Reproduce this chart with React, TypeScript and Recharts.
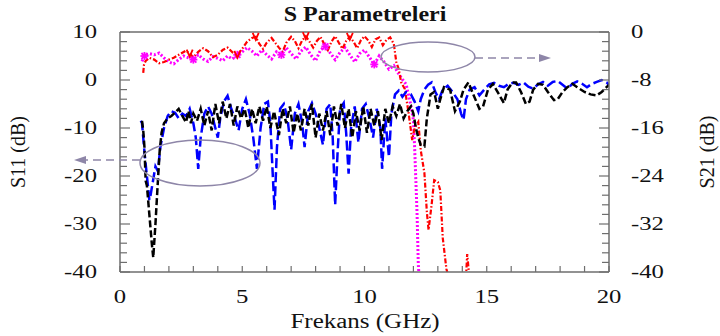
import { Line, LineChart, ReferenceLine, XAxis, YAxis } from "recharts";

// S11, black dashed (measured)
const s11BlackGhz = [
  0.9, 0.95, 1.0, 1.05, 1.1, 1.2, 1.3, 1.36, 1.45, 1.55, 1.62, 1.7, 1.8, 1.95, 2.1, 2.25, 2.4, 2.55, 2.7, 2.8,
  2.9, 3.0, 3.15, 3.3, 3.45, 3.6, 3.75, 3.9, 4.05, 4.2, 4.35, 4.5, 4.65, 4.8, 4.95, 5.1, 5.25, 5.4, 5.55, 5.7,
  5.85, 6.0, 6.15, 6.3, 6.5, 6.65, 6.8, 6.95, 7.1, 7.25, 7.4, 7.55, 7.7, 7.85, 8.0, 8.15, 8.3, 8.45, 8.6, 8.75,
  8.9, 9.05, 9.2, 9.35, 9.5, 9.65, 9.8, 9.95, 10.1, 10.25, 10.4, 10.55, 10.7, 10.85, 11.0, 11.15, 11.3, 11.45, 11.6, 11.75,
  11.9, 12.0, 12.1, 12.2, 12.3, 12.45, 12.55, 12.7, 12.85, 13.0, 13.1, 13.25, 13.5, 13.7, 13.9, 14.05, 14.25, 14.45, 14.7, 14.85,
  15.05, 15.25, 15.5, 15.7, 15.85, 16.05, 16.2, 16.4, 16.6, 16.75, 16.9, 17.1, 17.3, 17.5, 17.75, 17.9, 18.1, 18.3, 18.5, 18.7,
  19.0, 19.25, 19.5, 19.7, 19.9, 20.0
];
const s11BlackDb = [
  -8.5, -10.5, -14, -21, -22, -28, -34, -37, -30, -21, -15, -11, -9, -8, -7.5, -6.8, -6, -7.5, -8.8, -6.5,
  -9, -7, -8.5, -6, -9.5, -6.5, -10.5, -5, -9, -4.5, -8, -5, -9.5, -5.5, -8, -6, -10, -6, -9, -5.5,
  -8.5, -5.5, -10, -6.5, -11.5, -6, -9, -5.5, -11, -7, -10.5, -6, -9.5, -5, -12, -7, -10.5, -6.5, -11.5, -5.5,
  -9.5, -5, -10, -6, -12, -6.5, -10.5, -5.5, -11, -6, -9.5, -6.5, -12.5, -6, -9, -5.5, -7.5, -5, -8, -6.5,
  -5.5, -7, -10, -12, -13.5, -13.8, -8, -3, -2.5, -6, -4, -1.5, -2, -6.5, -4.5, -2, -0.5, -3, -6, -5.5,
  -2, -0.8, -3, -4.8, -2, -0.5, -0.5, -2.5, -5, -4.5, -2, -0.8, -1, -2.5, -4.2, -4, -2.5, -1.5, -0.8, -1.5,
  -2.5, -3, -3.2, -2.5, -1.5, -1
];

// S11, blue dashed (simulated)
const s11BlueGhz = [
  0.85, 0.9, 1.0, 1.1, 1.2, 1.25, 1.35, 1.45, 1.55, 1.65, 1.8, 1.95, 2.1, 2.25, 2.4, 2.55, 2.7, 2.85, 3.0, 3.1,
  3.2, 3.3, 3.45, 3.6, 3.75, 3.9, 4.0, 4.1, 4.25, 4.4, 4.55, 4.7, 4.85, 5.0, 5.15, 5.3, 5.45, 5.6, 5.75, 5.9,
  6.05, 6.15, 6.25, 6.32, 6.42, 6.55, 6.7, 6.85, 7.0, 7.15, 7.3, 7.45, 7.55, 7.7, 7.85, 8.0, 8.15, 8.3, 8.45, 8.6,
  8.7, 8.8, 8.9, 9.0, 9.15, 9.25, 9.35, 9.45, 9.6, 9.75, 9.9, 10.05, 10.2, 10.35, 10.5, 10.65, 10.72, 10.85, 11.0, 11.1,
  11.25, 11.4, 11.55, 11.7, 11.9, 12.05, 12.2, 12.3, 12.45, 12.6, 12.75, 12.9, 13.05, 13.2, 13.4, 13.6, 13.8, 13.95, 14.05, 14.15,
  14.3, 14.5, 14.7, 14.9, 15.1, 15.3, 15.5, 15.7, 15.9, 16.1, 16.3, 16.5, 16.7, 16.9, 17.1, 17.3, 17.5, 17.7, 17.9, 18.1,
  18.3, 18.5, 18.7, 18.9, 19.1, 19.3, 19.5, 19.7, 19.9, 20.0
];
const s11BlueDb = [
  -8.5, -9, -15, -20, -25, -24, -21, -18, -19, -14, -10, -7.5, -6.5, -6.8, -8, -7, -7.5, -6, -9, -12,
  -18.5, -12, -7, -5.5, -7, -10, -12, -8, -4.5, -3.3, -6, -8, -10.5, -6, -4, -7, -12, -18.5, -10, -5,
  -4.5, -9, -20, -27, -14, -6, -5, -8, -14.5, -7, -5, -9, -14, -6.5, -4.8, -7, -10, -13.5, -6, -5,
  -12, -26, -15, -6, -4.8, -11, -19.5, -10, -5.5, -13, -6, -5, -8, -12, -6, -10, -18.5, -8, -16, -7,
  -3, -2.2, -3.5, -2.5, -3, -4.5, -6.5, -4, -2, -1, -0.5, -2.5, -4, -2, -1.2, -2.5, -4, -7, -8.3, -4,
  -2, -1.5, -3.2, -2, -0.9, -0.6, -1.2, -1.5, -0.8, -0.6, -1, -0.5, -1.4, -1.8, -0.9, -0.4, -1.2, -0.4, -0.2, -1,
  -1.8, -0.8, -0.3, -0.8, -1.5, -0.8, -0.4, 0, -0.5, -1
];

// S21, red dash-dot (measured)
const s21RedGhz = [
  0.95, 0.98, 1.05, 1.2, 1.4, 1.6, 1.8, 2.0, 2.2, 2.45, 2.7, 2.85, 3.0, 3.2, 3.4, 3.6, 3.8, 4.0, 4.2, 4.4,
  4.6, 4.8, 5.0, 5.2, 5.4, 5.55, 5.7, 5.85, 6.0, 6.2, 6.35, 6.5, 6.65, 6.8, 7.0, 7.15, 7.3, 7.45, 7.6, 7.75,
  7.9, 8.05, 8.2, 8.35, 8.5, 8.65, 8.8, 8.95, 9.1, 9.25, 9.4, 9.55, 9.7, 9.85, 10.0, 10.15, 10.3, 10.45, 10.6, 10.75,
  10.9, 11.05, 11.2, 11.3, 11.4, 11.5, 11.65, 11.8, 11.95, 12.05, 12.2, 12.3, 12.45, 12.55, 12.62, 12.75, 12.85, 13.0, 13.1, 13.2,
  13.35, 13.45, 13.8, 14.15, 14.2, 14.28
];
const s21RedDb = [
  -6.8, -5.5, -4.8, -4.3, -4.6, -5.2, -5.0, -4.6, -4.3, -3.7, -3.1, -3.6, -4.2, -3.3, -2.7, -3.2, -4.2, -3.8, -3.0, -2.6,
  -3.4, -3.8, -2.8, -1.6, -1.0, -0.8, -2.0, -2.8, -1.8, -1.0, -1.8, -2.6, -3.3, -1.8, -0.8, -1.5, -2.7, -1.4, -0.7, -1.6,
  -2.6, -1.5, -0.8, -2.0, -3.0, -1.6, -0.7, -1.8, -2.8, -1.5, -0.8, -1.6, -2.7, -1.4, -0.7, -1.4, -2.5, -1.2, -0.9, -2.2,
  -1.3, -0.9, -2.0, -5, -6.2, -8.4, -9.5, -13.4, -18, -16, -15, -19.7, -23.5, -30, -33, -28.6, -24.7, -25, -26.4, -34.3,
  -39.5, -41, null, -41, -37, -40.5
];

// S21, magenta dotted (simulated)
const s21MagentaGhz = [
  0.9, 1.0, 1.2, 1.4, 1.6, 1.8, 2.0, 2.2, 2.4, 2.6, 2.8, 3.0, 3.2, 3.4, 3.6, 3.8, 4.0, 4.2, 4.4, 4.6,
  4.8, 5.0, 5.2, 5.4, 5.6, 5.8, 6.0, 6.2, 6.4, 6.6, 6.8, 7.0, 7.2, 7.4, 7.6, 7.8, 8.0, 8.2, 8.4, 8.6,
  8.8, 9.0, 9.2, 9.4, 9.6, 9.8, 10.0, 10.2, 10.4, 10.6, 10.8, 11.0, 11.2, 11.4, 11.55, 11.7, 11.85, 12.0, 12.05, 12.1,
  12.15, 12.2, 12.22
];
const s21MagentaDb = [
  -4.9, -4.0, -3.6, -3.8, -3.5, -4.3, -5.0, -5.3, -4.6, -4.0, -4.3, -4.6, -3.8, -4.5, -4.9, -4.1, -4.4, -4.8, -4.0, -4.5,
  -3.8, -3.3, -2.6, -3.2, -4.0, -3.0, -3.8, -4.5, -3.3, -3.8, -2.6, -3.6, -4.5, -3.2, -2.5, -3.8, -4.8, -3.0, -2.4, -3.5,
  -4.6, -3.4, -2.6, -3.8, -5.0, -3.6, -3.0, -4.2, -5.4, -4.0, -5.0, -6.2, -5.6, -7.0, -7.9, -8.7, -11.3, -14.6, -19.2, -24.7,
  -30.3, -38.7, -40
];

const magentaMarks = [1.0, 3.0, 4.8, 6.6, 8.4, 10.4];
const redMarks = [2.85, 4.8, 5.55, 7.6, 9.4];

const xTicks = [0, 1, 2, 3, 4, 5, 6, 7, 8, 9, 10, 11, 12, 13, 14, 15, 16, 17, 18, 19, 20];
const xLabels = [0, 5, 10, 15, 20];
const leftTicks = [
  -40, -38, -36, -34, -32, -30, -28, -26, -24, -22, -20, -18, -16, -14, -12, -10, -8, -6, -4, -2, 0, 2, 4, 6, 8, 10
];
const leftLabels = [10, 0, -10, -20, -30, -40];
const rightTicks = [
  -40, -38.4, -36.8, -35.2, -33.6, -32, -30.4, -28.8, -27.2, -25.6, -24, -22.4, -20.8, -19.2, -17.6, -16, -14.4,
  -12.8, -11.2, -9.6, -8, -6.4, -4.8, -3.2, -1.6, 0
];
const rightLabels = [0, -8, -16, -24, -32, -40];

const FONT = '"Liberation Serif", "Times New Roman", serif';
const FRAME = "#6e6e6e";
const NOTE = "#8e86a8";

const pts = (ghz: number[], db: (number | null)[]) => ghz.map((f, i) => ({ f, v: db[i] }));

function XTick({ x, y, payload }: any) {
  const major = xLabels.includes(payload.value);
  return (
    <g>
      <line x1={x} x2={x} y1={y} y2={y - 6} stroke={FRAME} strokeWidth={1.2} />
      {major && (
        <text transform={`translate(${x},${y + 31}) scale(1.3,1)`} textAnchor="middle" fontFamily={FONT} fontSize={19} fill="#111">
          {payload.value}
        </text>
      )}
    </g>
  );
}

function LeftTick({ x, y, payload }: any) {
  const major = leftLabels.includes(payload.value);
  return (
    <g>
      <line x1={x} x2={x + (major ? 10 : 7)} y1={y} y2={y} stroke={FRAME} strokeWidth={1.2} />
      {major && (
        <text transform={`translate(${x - 23},${y + 6}) scale(1.3,1)`} textAnchor="end" fontFamily={FONT} fontSize={19} fill="#111">
          {payload.value}
        </text>
      )}
    </g>
  );
}

function RightTick({ x, y, payload }: any) {
  const major = rightLabels.includes(payload.value);
  return (
    <g>
      <line x1={x} x2={x - (major ? 10 : 7)} y1={y} y2={y} stroke={FRAME} strokeWidth={1.2} />
      {major && (
        <text transform={`translate(${x + 22},${y + 6}) scale(1.3,1)`} textAnchor="start" fontFamily={FONT} fontSize={19} fill="#111">
          {payload.value}
        </text>
      )}
    </g>
  );
}

function markDot(marks: number[], color: string, kind: "star" | "arrow") {
  return (p: any) => {
    const key = `${kind}-${p.index}`;
    if (!marks.some((m) => Math.abs(m - p.payload.f) < 0.01)) return <g key={key} />;
    const { cx, cy } = p;
    if (kind === "star") {
      return (
        <g key={key} stroke={color} strokeWidth={1.8}>
          <line x1={cx - 4} x2={cx + 4} y1={cy} y2={cy} />
          <line x1={cx} x2={cx} y1={cy - 4} y2={cy + 4} />
          <line x1={cx - 3} x2={cx + 3} y1={cy - 3} y2={cy + 3} />
          <line x1={cx - 3} x2={cx + 3} y1={cy + 3} y2={cy - 3} />
        </g>
      );
    }
    return <path key={key} d={`M${cx - 3},${cy - 4} L${cx},${cy + 3} L${cx + 3},${cy - 4}`} stroke={color} strokeWidth={1.8} fill="none" />;
  };
}

export default function App() {
  return (
    <div style={{ position: "absolute", left: 0, top: 0, width: 720, height: 336, background: "#fff", fontFamily: FONT }}>
      <LineChart width={720} height={336} margin={{ top: 32, right: 0, bottom: 0, left: 0 }}>
        <XAxis
          dataKey="f"
          type="number"
          domain={[0, 20]}
          ticks={xTicks}
          interval={0}
          height={64}
          tickSize={0}
          tickMargin={0}
          tickLine={false}
          tick={<XTick />}
          axisLine={{ stroke: FRAME, strokeWidth: 1.5 }}
          allowDataOverflow
        />
        <YAxis
          yAxisId="l"
          type="number"
          domain={[-40, 10]}
          ticks={leftTicks}
          interval={0}
          width={120}
          tickSize={0}
          tickMargin={0}
          tickLine={false}
          tick={<LeftTick />}
          axisLine={{ stroke: FRAME, strokeWidth: 1.5 }}
          allowDataOverflow
        />
        <YAxis
          yAxisId="r"
          orientation="right"
          type="number"
          domain={[-40, 0]}
          ticks={rightTicks}
          interval={0}
          width={111}
          tickSize={0}
          tickMargin={0}
          tickLine={false}
          tick={<RightTick />}
          axisLine={{ stroke: FRAME, strokeWidth: 1.5 }}
          allowDataOverflow
        />
        <ReferenceLine yAxisId="l" y={10} stroke={FRAME} strokeWidth={1.5} />
        <Line
          yAxisId="r"
          data={pts(s21MagentaGhz, s21MagentaDb)}
          dataKey="v"
          type="linear"
          stroke="#ff00ff"
          strokeWidth={3}
          strokeDasharray="2 2"
          dot={markDot(magentaMarks, "#ff00ff", "star")}
          isAnimationActive={false}
        />
        <Line
          yAxisId="r"
          data={pts(s21RedGhz, s21RedDb)}
          dataKey="v"
          type="linear"
          stroke="#ff0000"
          strokeWidth={2.2}
          strokeDasharray="5 2 1.5 2"
          dot={markDot(redMarks, "#ff0000", "arrow")}
          isAnimationActive={false}
        />
        <Line
          yAxisId="l"
          data={pts(s11BlueGhz, s11BlueDb)}
          dataKey="v"
          type="linear"
          stroke="#0000ff"
          strokeWidth={2.5}
          strokeDasharray="10 4"
          dot={false}
          isAnimationActive={false}
        />
        <Line
          yAxisId="l"
          data={pts(s11BlackGhz, s11BlackDb)}
          dataKey="v"
          type="linear"
          stroke="#000"
          strokeWidth={2.5}
          strokeDasharray="7 3"
          dot={false}
          isAnimationActive={false}
        />
      </LineChart>

      <svg width={720} height={336} style={{ position: "absolute", left: 0, top: 0, pointerEvents: "none" }}>
        <ellipse cx={428} cy={57} rx={47} ry={15} fill="none" stroke={NOTE} strokeWidth={1.5} />
        <line x1={475} x2={540} y1={58} y2={58} stroke={NOTE} strokeWidth={1.5} strokeDasharray="8 5" />
        <path d="M551,58 L539,54 L539,62 Z" fill={NOTE} />
        <ellipse cx={200} cy={163} rx={60} ry={23} fill="none" stroke={NOTE} strokeWidth={1.5} />
        <line x1={140} x2={85} y1={160} y2={160} stroke={NOTE} strokeWidth={1.5} strokeDasharray="8 5" />
        <path d="M74,160 L86,156 L86,164 Z" fill={NOTE} />
        <text transform="translate(365,21) scale(1.2,1)" textAnchor="middle" fontFamily={FONT} fontSize={20} fontWeight="bold" fill="#111">
          S Parametreleri
        </text>
        <text transform="translate(365,328) scale(1.25,1)" textAnchor="middle" fontFamily={FONT} fontSize={20} fill="#111">
          Frekans (GHz)
        </text>
        <text transform="translate(25,152) rotate(-90)" textAnchor="middle" fontFamily={FONT} fontSize={20} fill="#111">
          S11 (dB)
        </text>
        <text transform="translate(714,152) rotate(-90)" textAnchor="middle" fontFamily={FONT} fontSize={20} fill="#111">
          S21 (dB)
        </text>
      </svg>
    </div>
  );
}
